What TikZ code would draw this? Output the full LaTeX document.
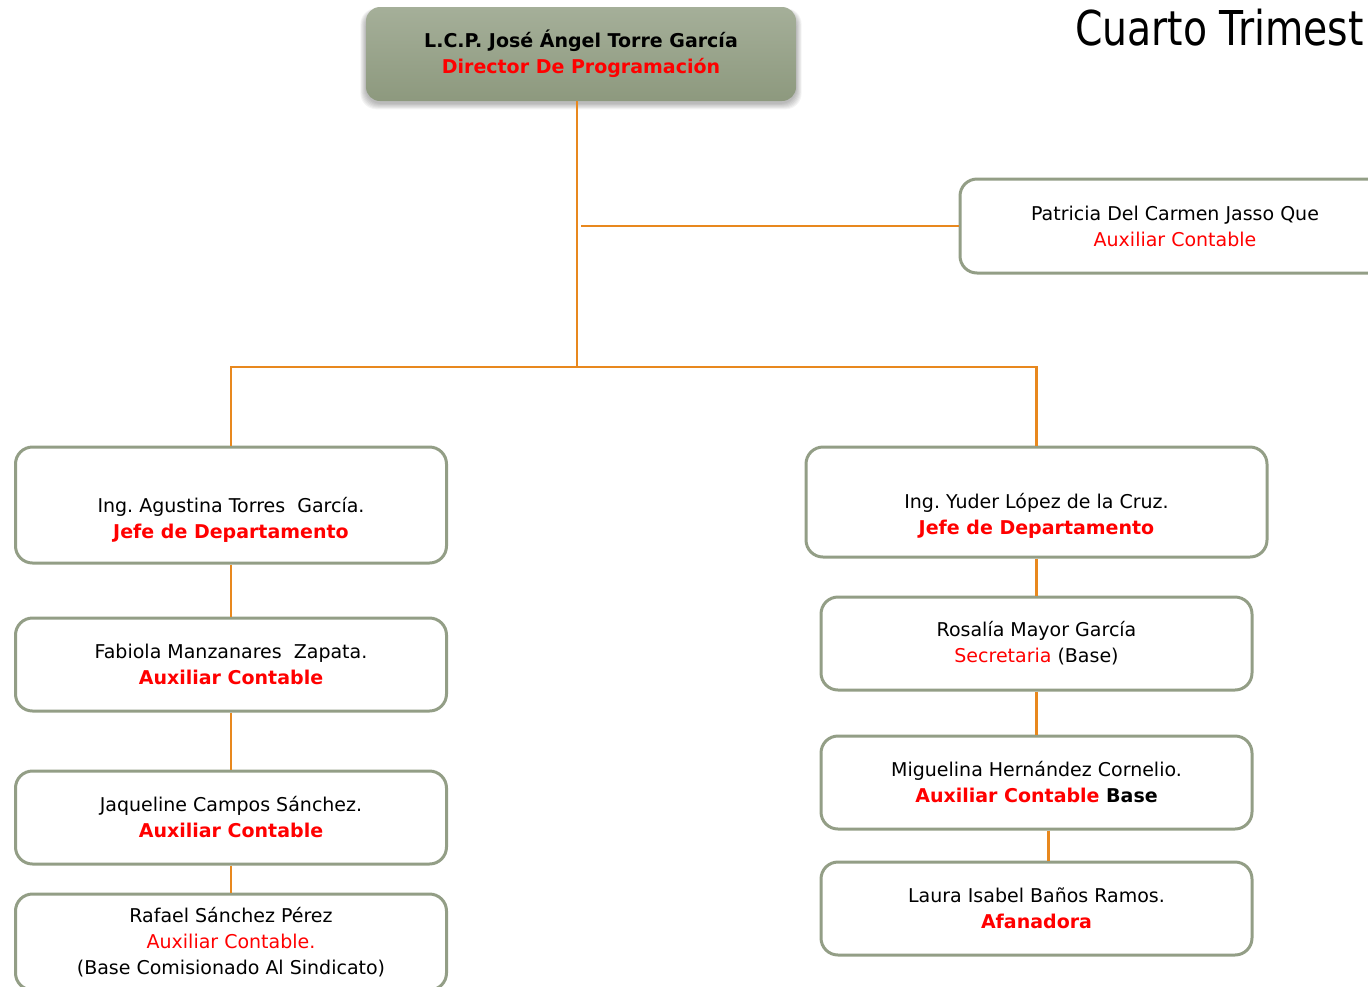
\documentclass[tikz,border=0pt]{standalone}
\usepackage{fontspec}
\setmainfont{DejaVu Sans}
\definecolor{bord}{RGB}{147,158,134}
\definecolor{org}{RGB}{232,136,30}
\definecolor{topA}{RGB}{165,175,153}
\definecolor{topB}{RGB}{141,153,126}
\definecolor{rd}{RGB}{255,0,0}
\newcommand\rr[1]{\textcolor{rd}{#1}}
\frenchspacing
\tikzset{
  orgbox/.style={draw=bord, line width=3pt, rounded corners=17pt, fill=white,
    align=center, inner sep=0pt, font=\fontsize{19}{26}\selectfont},
  lbl/.style={align=center, inner sep=0pt, font=\fontsize{19}{26}\selectfont},
  topbox/.style={rounded corners=14pt, top color=topA, bottom color=topB,
    align=center, inner sep=0pt, font=\bfseries\fontsize{19}{26}\selectfont},
  conn/.style={draw=org, line width=2.2pt}
}
\begin{document}
\begin{tikzpicture}[x=1pt,y=-1pt]
\useasboundingbox (0,0) rectangle (1368,986);
\clip (0,0) rectangle (1368,986);

% soft shadow of the top box
\foreach \i in {1,...,7}{
  \fill[black, opacity=0.045, rounded corners=16pt]
    (366-\i*0.8, 11-\i*0.4) rectangle (796+\i*0.8, 103+\i*0.9);
}
\node[topbox, minimum width=430pt, minimum height=94pt] (top) at (581,54)
  {L.C.P. José Ángel Torre García\\\rr{Director De Programación}};

\node[anchor=base west, inner sep=0pt, font=\fontsize{48}{55}\selectfont] (title) at (1075,45)
  {\scalebox{0.82}[1]{Cuarto Trimest}};

\node[orgbox, minimum width=430pt, minimum height=94pt] (pat) at (1175,226)
  {Patricia Del Carmen Jasso Que\\\rr{Auxiliar Contable}};

\node[orgbox, minimum width=431pt, minimum height=116pt] (jl) at (231,505) {};
\node[lbl] (jlt) at ([yshift=-15pt]jl.center)
  {Ing. Agustina Torres\ \ García.\\\textbf{\rr{Jefe de Departamento}}};
\node[orgbox, minimum width=431pt, minimum height=93pt] (fab) at (231,664.5)
  {Fabiola Manzanares\ \ Zapata.\\\textbf{\rr{Auxiliar Contable}}};
\node[orgbox, minimum width=431pt, minimum height=93pt] (jaq) at (231,817.5)
  {Jaqueline Campos Sánchez.\\\textbf{\rr{Auxiliar Contable}}};
\node[orgbox, minimum width=431pt, minimum height=96pt] (raf) at (231,942)
  {Rafael Sánchez Pérez\\\rr{Auxiliar Contable.}\\(Base Comisionado Al Sindicato)};

\node[orgbox, minimum width=461pt, minimum height=110pt] (jr) at (1036.5,502) {};
\node[lbl] (jrt) at ([yshift=-14pt]jr.center)
  {Ing. Yuder López de la Cruz.\\\textbf{\rr{Jefe de Departamento}}};
\node[orgbox, minimum width=431pt, minimum height=93pt] (ros) at (1036.5,643.5)
  {Rosalía Mayor García\\\rr{Secretaria} (Base)};
\node[orgbox, minimum width=431pt, minimum height=93pt] (mig) at (1036.5,782.5)
  {Miguelina Hernández Cornelio.\\\textbf{\rr{Auxiliar Contable} Base}};
\node[orgbox, minimum width=431pt, minimum height=93pt] (lau) at (1036.5,908.5)
  {Laura Isabel Baños Ramos.\\\textbf{\rr{Afanadora}}};

\coordinate (hub) at (577,367);
\draw[conn] (top.south -| hub) -- (hub);
\draw[conn] ([xshift=4pt]pat.west -| hub) -- (pat.west);
\draw[conn] (jl.north) -- (jl.north |- hub) -- (jr.north |- hub) -- (jr.north);
\draw[conn] (jl.south) -- (fab.north);
\draw[conn] (fab.south) -- (jaq.north);
\draw[conn] (jaq.south) -- (raf.north);
\draw[conn] (jr.south) -- (ros.north);
\draw[conn] (ros.south) -- (mig.north);
\draw[conn] ([xshift=12pt]mig.south) -- ([xshift=12pt]lau.north);
\end{tikzpicture}
\end{document}
